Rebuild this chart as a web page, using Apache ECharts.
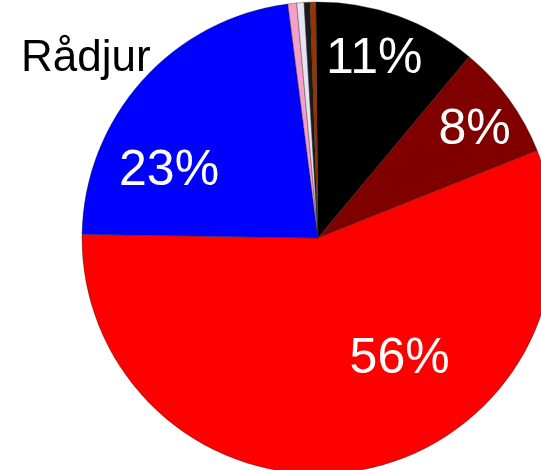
<!DOCTYPE html>
<html>
<head>
<meta charset="utf-8">
<script src="https://cdn.jsdelivr.net/npm/echarts@6/dist/echarts.min.js"></script>
<style>
  html, body { margin: 0; padding: 0; background: #fff; }
  #main { width: 541px; height: 470px; }
</style>
</head>
<body>
<div id="main"></div>
<script>
// slices clockwise from the top
let names = ['A', 'B', 'C', 'Rådjur', 'D', 'E', 'F', 'G'];
let values = [11.2, 7.9, 56.3, 22.7, 0.6, 0.5, 0.4, 0.4];
let colors = ['#000000', '#800000', '#ff0000', '#0000ff', '#f49ec8', '#e4e4f2', '#1a1a1a', '#993300'];

// where the percent labels sit (angle from top, distance from centre)
let labelAngle = [17.5, 55.5, 146, 294];
let labelDist = [187, 190, 146, 163];

let cx = 318, cy = 238, R = 236;

let chart = echarts.init(document.getElementById('main'));
chart.setOption({
  animation: false,
  title: {
    text: 'Rådjur',
    left: 16,
    top: 32,
    textStyle: { fontFamily: 'Liberation Sans, Arial', fontSize: 44, fontWeight: 'normal', color: '#000' }
  },
  series: [{
    type: 'pie',
    center: [cx, cy],
    radius: R,
    startAngle: 90.5,
    clockwise: true,
    avoidLabelOverlap: false,
    itemStyle: { borderColor: 'rgba(30,30,30,0.6)', borderWidth: 0.6 },
    label: {
      show: true,
      position: 'inside',
      color: '#fff',
      fontFamily: 'Liberation Sans, Arial',
      fontSize: 50,
      formatter: p => p.percent >= 5 ? Math.round(p.percent) + '%' : ''
    },
    labelLine: { show: false },
    labelLayout: function (params) {
      let i = params.dataIndex;
      if (i >= labelAngle.length) return {};
      let a = labelAngle[i] * Math.PI / 180;
      return {
        x: cx + labelDist[i] * Math.sin(a),
        y: cy - labelDist[i] * Math.cos(a),
        align: 'center',
        verticalAlign: 'middle'
      };
    },
    data: names.map((n, i) => ({ name: n, value: values[i], itemStyle: { color: colors[i] } }))
  }]
});
</script>
</body>
</html>
